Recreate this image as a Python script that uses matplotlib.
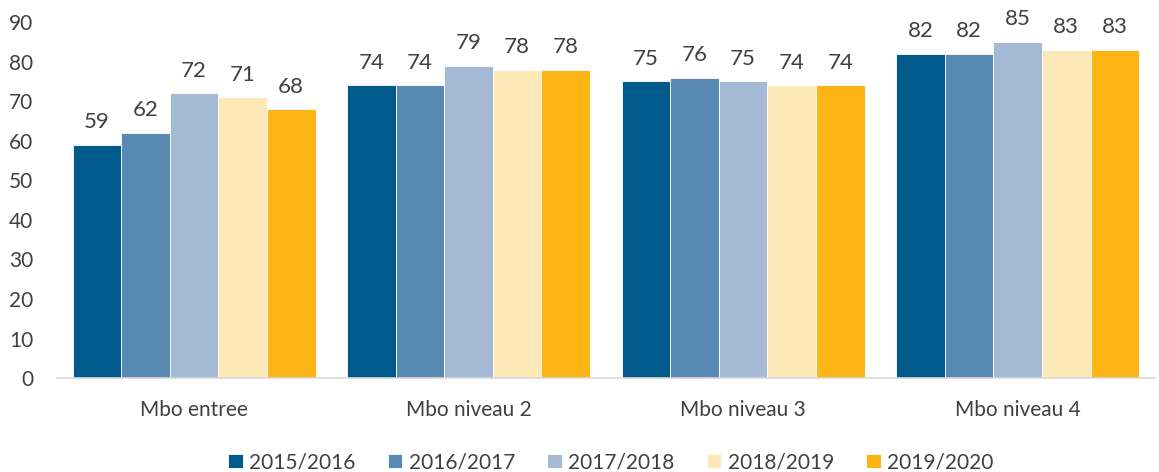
import numpy as np
import matplotlib
matplotlib.use('Agg')
import matplotlib.pyplot as plt

plt.rcParams['font.family'] = ['Lato', 'DejaVu Sans']

categories = ['Mbo entree', 'Mbo niveau 2', 'Mbo niveau 3', 'Mbo niveau 4']
years = ['2015/2016', '2016/2017', '2017/2018', '2018/2019', '2019/2020']
values = [
    [59, 74, 75, 82],
    [62, 74, 76, 82],
    [72, 79, 75, 85],
    [71, 78, 74, 83],
    [68, 78, 74, 83],
]
colors = ['#005A8C', '#5889B3', '#A3B9D4', '#FDE8B8', '#FDB515']

text_col = '#404040'

fig = plt.figure(figsize=(11.59, 4.72), dpi=100)
ax = fig.add_axes([0.049, 0.199, 0.9475, 0.754])

x = np.arange(len(categories))
w = 0.177
for i, (yr, vals) in enumerate(zip(years, values)):
    pos = x + (i - 2) * w
    bars = ax.bar(pos, vals, w, color=colors[i], label=yr,
                  edgecolor='white', linewidth=0.6)
    for b, v in zip(bars, vals):
        ax.annotate(str(v), (b.get_x() + b.get_width() / 2, v),
                    xytext=(0, 9), textcoords='offset points',
                    ha='center', va='bottom', fontsize=16, color=text_col)

ax.set_xlim(-0.5, 3.5)
ax.set_ylim(0, 90)
ax.set_yticks(range(0, 91, 10))
ax.set_xticks(x)
ax.set_xticklabels(categories)
ax.tick_params(axis='both', length=0, labelsize=15, colors=text_col)
ax.tick_params(axis='x', pad=16)
ax.tick_params(axis='y', pad=17)
for s in ['top', 'right', 'left']:
    ax.spines[s].set_visible(False)
ax.spines['bottom'].set_color('#D9D9D9')
ax.spines['bottom'].set_linewidth(1.2)

fig.legend(loc='lower center', bbox_to_anchor=(0.527, -0.04), ncol=5,
           frameon=False, fontsize=15, handlelength=0.7, handleheight=0.7,
           handletextpad=0.3, columnspacing=1.55, labelcolor=text_col)

fig.savefig('out.png', dpi=100)
